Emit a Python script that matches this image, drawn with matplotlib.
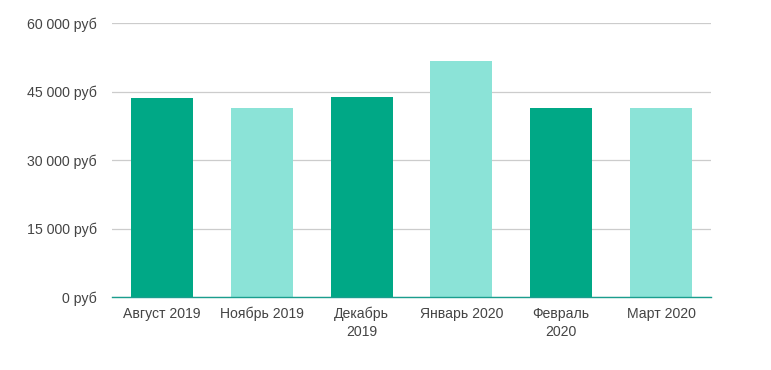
import matplotlib
matplotlib.use("Agg")
import matplotlib.pyplot as plt
from matplotlib.ticker import FuncFormatter

# monthly values, rubles
months = ["Август 2019", "Ноябрь 2019", "Декабрь\n2019", "Январь 2020", "Февраль\n2020", "Март 2020"]
values = [43550, 41350, 43770, 51670, 41350, 41350]
colors = ["#00a886", "#8be3d7", "#00a886", "#8be3d7", "#00a886", "#8be3d7"]
yticks = [0, 15000, 30000, 45000, 60000]

plt.rcParams['font.family'] = ['Liberation Sans', 'DejaVu Sans']

fig = plt.figure(figsize=(7.71, 3.70), dpi=100)
ax = fig.add_axes([112 / 771, 1 - 297 / 370, 599 / 771, 274 / 370])

x = range(len(months))
ax.bar(x, values, width=0.62, color=colors, zorder=3)

ax.set_xlim(-0.5, len(months) - 0.5)
ax.set_ylim(0, 60000)
ax.set_yticks(yticks)
ax.yaxis.set_major_formatter(FuncFormatter(lambda v, p: f"{int(v):,} руб".replace(",", " ")))
ax.set_xticks(list(x))
ax.set_xticklabels(months, linespacing=1.35)

ax.grid(axis='y', color='#cccccc', linewidth=0.9, zorder=0)
for s in ['top', 'right', 'left']:
    ax.spines[s].set_visible(False)
ax.spines['bottom'].set_color('#1a9e8e')
ax.spines['bottom'].set_linewidth(1.0)
ax.spines['bottom'].set_zorder(4)

ax.tick_params(axis='y', length=0, pad=11, labelsize=10.2, labelcolor='#444444')
ax.tick_params(axis='x', length=0, pad=7, labelsize=10.1, labelcolor='#444444')

fig.savefig("out.png", dpi=100)
